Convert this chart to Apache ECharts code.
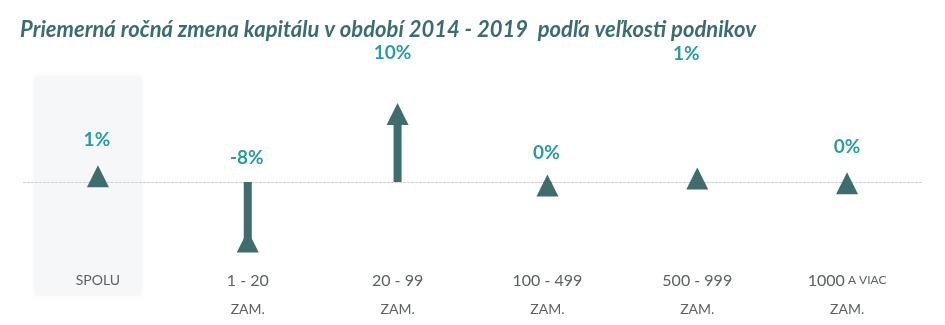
<!DOCTYPE html>
<html>
<head>
<meta charset="utf-8">
<script src="https://cdn.jsdelivr.net/npm/echarts@6/dist/echarts.min.js"></script>
<style>
html,body{margin:0;padding:0;background:#fff;}
#chart{width:945px;height:325px;}
</style>
</head>
<body>
<div id="chart"></div>
<script>
const titleText = 'Priemerná ročná zmena kapitálu v období 2014 - 2019  podľa veľkosti podnikov';
const categories = ['SPOLU', '1 - 20\nZAM.', '20 - 99\nZAM.', '100 - 499\nZAM.', '500 - 999\nZAM.', '1000 A VIAC\nZAM.'];
const changes = [1.1, -8.2, 10.0, -0.2, 0.8, 0.1];

// label placement (style only)
const labelOffsets = [[-1, -36], [-1, -84], [-5, -61], [-1, -33], [-11, -125], [0, -36]];

const arrowColor = '#3f6c6d';
const labelColor = '#2a9c9e';
const textFont = 'Lato, "Open Sans", sans-serif';

function fmtCat(v) {
  return v.split('\n').map(function (line) {
    const hasDigits = /\d/.test(line);
    return line.split(/(\d+(?:\s*-\s*\d+)?)/).filter(function (p) { return p.length; }).map(function (p) {
      if (/\d/.test(p)) return '{n|' + p + '}';
      return '{' + (hasDigits ? 'c' : 's') + '|' + p + '}';
    }).join('');
  }).join('\n');
}

const chart = echarts.init(document.getElementById('chart'), null, {renderer: 'canvas'});
chart.setOption({
  animation: false,
  backgroundColor: '#ffffff',
  title: {
    text: titleText,
    left: 15,
    top: 14,
    textStyle: {fontFamily: textFont, fontSize: 22, fontWeight: 'bold', fontStyle: 'italic', color: '#3b6d70'}
  },
  graphic: [{
    type: 'rect',
    z: -10,
    shape: {x: 34, y: 76, width: 108, height: 220, r: 4},
    style: {fill: '#f6f7f9', shadowBlur: 8, shadowColor: '#f6f7f9'}
  }],
  grid: {left: 23, top: 98, width: 899, height: 154, containLabel: false},
  xAxis: {
    type: 'category',
    data: categories,
    axisLine: {show: false},
    axisTick: {show: false},
    axisLabel: {
      margin: 14,
      interval: 0,
      formatter: fmtCat,
      rich: {
        n: {fontFamily: textFont, fontSize: 16, color: '#5a6264', lineHeight: 29},
        s: {fontFamily: textFont, fontSize: 14, color: '#5a6264', lineHeight: 29},
        c: {fontFamily: textFont, fontSize: 12, color: '#5a6264', lineHeight: 29}
      }
    }
  },
  yAxis: {
    type: 'value',
    min: -10,
    max: 12,
    show: false,
    splitLine: {show: false}
  },
  series: [
    {
      type: 'bar',
      data: changes,
      barWidth: 8,
      itemStyle: {color: arrowColor},
      z: 3,
      markLine: {
        silent: true,
        symbol: ['none', 'none'],
        label: {show: false},
        lineStyle: {color: '#cfcfcf', type: [3, 1], width: 1},
        data: [{yAxis: 0}],
        z: 1
      }
    },
    {
      type: 'scatter',
      data: changes.map(function (v, i) {
        return {value: v, label: {offset: labelOffsets[i]}};
      }),
      symbol: 'triangle',
      symbolSize: [22, 22],
      symbolOffset: [0, 2],
      itemStyle: {color: arrowColor, opacity: 1},
      z: 4,
      label: {
        show: true,
        position: 'inside',
        fontFamily: textFont,
        fontSize: 19,
        fontWeight: 'bold',
        color: labelColor,
        formatter: function (p) { return Math.round(p.value) + '%'; }
      }
    }
  ]
});
</script>
</body>
</html>
